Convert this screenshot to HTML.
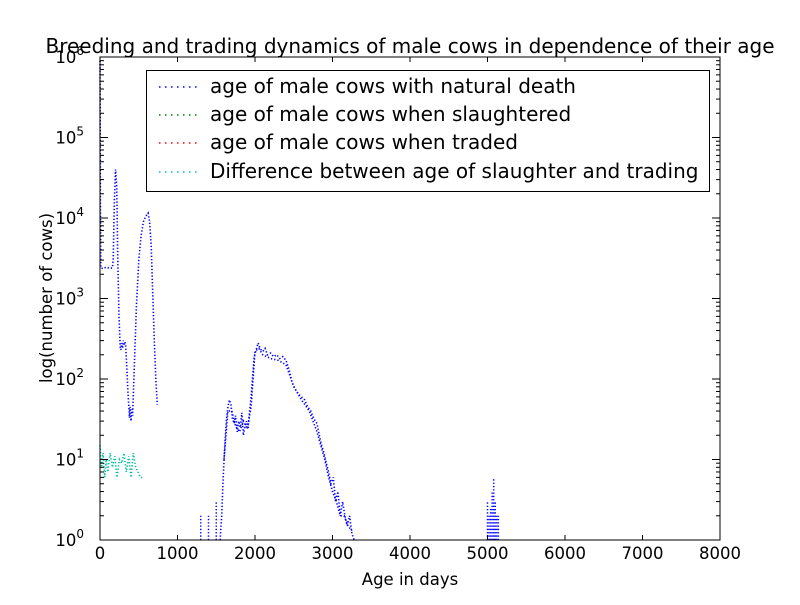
<!DOCTYPE html>
<html><head><meta charset="utf-8"><style>
body{margin:0;background:#fff;}
svg text{font-family:"DejaVu Sans","Liberation Sans",sans-serif;}
</style></head><body>
<svg id="chart" width="800" height="600" xmlns="http://www.w3.org/2000/svg">
<rect width="800" height="600" fill="#fff"/>
<text x="410" y="53" font-size="20" text-anchor="middle">Breeding and trading dynamics of male cows in dependence of their age</text>
<g id="marks"></g>
<rect x="100" y="57" width="620" height="483" fill="none" stroke="#000" stroke-width="1"/>
<g id="axes"></g>
<text x="410" y="585" font-size="16.5" text-anchor="middle">Age in days</text>
<text transform="translate(52,298) rotate(-90)" font-size="16.5" text-anchor="middle">log(number of cows)</text>
<g>
<rect x="146.5" y="70.5" width="563" height="121" fill="#fff" stroke="#000"/>
<line x1="159" y1="87" x2="201" y2="87" stroke="#0000ff" stroke-width="1.5" stroke-dasharray="1.5,4.5"/>
<text x="210" y="93" font-size="20">age of male cows with natural death</text>
<line x1="159" y1="115" x2="201" y2="115" stroke="#008000" stroke-width="1.5" stroke-dasharray="1.5,4.5"/>
<text x="210" y="121" font-size="20">age of male cows when slaughtered</text>
<line x1="159" y1="143" x2="201" y2="143" stroke="#ff0000" stroke-width="1.5" stroke-dasharray="1.5,4.5"/>
<text x="210" y="149" font-size="20">age of male cows when traded</text>
<line x1="159" y1="172" x2="201" y2="172" stroke="#00bfbf" stroke-width="1.5" stroke-dasharray="1.5,4.5"/>
<text x="210" y="178" font-size="20">Difference between age of slaughter and trading</text>
</g>
</svg>
<script>
const xTicks=[0,1000,2000,3000,4000,5000,6000,7000,8000];
const yExps=[0,1,2,3,4,5,6];
const naturalDays=[0,5,10,40,80,120,160,170,185,200,215,230,245,260,270,280,290,300,310,320,330,345,360,375,380,390,400,410,420,440,470,500,530,560,590,620,640,660,680,700,720,740];
const naturalCounts=[900000,20000,2400,2350,2450,2380,2400,3000,15000,40000,25000,3000,600,250,230,280,240,300,260,290,270,150,70,40,33,45,30,42,35,120,800,3000,6000,9000,10500,11500,9000,4500,1200,300,100,48];
const natural2Days=[1550,1570,1590,1610,1630,1650,1670,1690,1710,1730,1750,1770,1790,1810,1830,1850,1870,1890,1910,1930,1950,1970,1990,2020,2040,2060,2080,2100,2130,2160,2200,2240,2280,2320,2360,2400,2440,2480,2520,2560,2600,2640,2680,2720,2760,2800,2830,2860,2890,2920,2950,2980,3010,3040,3070,3100,3130,3160,3190,3220,3250,3280];
const natural2Counts=[1,2,6,15,30,45,55,48,32,28,35,22,30,25,38,20,26,30,24,40,60,110,190,240,280,250,230,220,240,200,210,190,200,180,190,170,130,90,75,65,60,55,45,40,32,28,20,15,12,9,7,5,6,3,4,2,3,2,1.5,2,1.2,1];
const natural3Days=[1600,1650,1700,1750,1800,1850,1900,1950,2000,2050,2100,2200,2300,2400,2500,2600,2700,2800,2900,2950,3000,3050,3100,3150,3200,3250];
const natural3Counts=[10,40,40,26,22,30,24,45,220,240,200,180,170,150,80,55,40,22,10,6,4,3,2,2,1.5,1.3];
const spikeDays=[1300,1400,1500,5000,5020,5040,5060,5080,5100,5120,5140];
const spikeCounts=[2,2,3,3,2,2.5,4,6,3,2,2];
const diffDays=[0,20,40,60,80,100,130,160,190,220,250,280,310,340,370,400,430,460,490,520,550];
const diffCounts=[15,8,12,6,10,7,12,8,11,6,10,9,12,7,11,6,12,8,7,6,6];
const X=d=>100+d*620/8000;
const Y=v=>540-Math.log10(v)*80.5;
const NS="http://www.w3.org/2000/svg";
const marks=document.getElementById('marks'),axes=document.getElementById('axes');
function series(days,counts,color,name){
  const p=document.createElementNS(NS,'polyline');
  
  
  p.setAttribute('points',days.map((d,i)=>X(d).toFixed(1)+','+Y(counts[i]).toFixed(1)).join(' '));
  p.setAttribute('fill','none');p.setAttribute('stroke',color);p.setAttribute('stroke-width','1.6');p.setAttribute('stroke-dasharray','1.3,2');
  marks.appendChild(p);
}
series(naturalDays,naturalCounts,'#0000ff','natural-death-line');
series(natural2Days,natural2Counts,'#0000ff','natural-death-line-2');
series(natural3Days,natural3Counts,'#0000ff','natural-death-line-3');
series(diffDays,diffCounts,'#00bfa0','difference-line');
spikeDays.forEach((d,i)=>{
  const l=document.createElementNS(NS,'line');
  
  
  l.setAttribute('x1',X(d));l.setAttribute('x2',X(d));l.setAttribute('y1',540);l.setAttribute('y2',Y(spikeCounts[i]));
  l.setAttribute('stroke','#0000ff');l.setAttribute('stroke-width','1.5');l.setAttribute('stroke-dasharray','1.3,2');
  marks.appendChild(l);
});
xTicks.forEach(t=>{
  const x=X(t);
  axes.insertAdjacentHTML('beforeend',`<line x1="${x}" y1="540" x2="${x}" y2="535" stroke="#000"/><line x1="${x}" y1="57" x2="${x}" y2="62" stroke="#000"/>`);
  const tx=document.createElementNS(NS,'text');
  
  
  tx.setAttribute('x',x);tx.setAttribute('y',559);tx.setAttribute('font-size','16.5');tx.setAttribute('text-anchor','middle');
  tx.textContent=t;axes.appendChild(tx);
});
yExps.forEach(e=>{
  const y=540-e*80.5;
  axes.insertAdjacentHTML('beforeend',`<line x1="100" y1="${y}" x2="108" y2="${y}" stroke="#000"/><line x1="720" y1="${y}" x2="712" y2="${y}" stroke="#000"/>`);
  if(e<6){for(let m=2;m<10;m++){const yy=y-Math.log10(m)*80.5;axes.insertAdjacentHTML('beforeend',`<line x1="100" y1="${yy}" x2="104" y2="${yy}" stroke="#000"/><line x1="720" y1="${yy}" x2="716" y2="${yy}" stroke="#000"/>`);}}
  const tx=document.createElementNS(NS,'text');
  
  
  tx.setAttribute('x',84);tx.setAttribute('y',y+6);tx.setAttribute('font-size','16.5');tx.setAttribute('text-anchor','end');
  tx.innerHTML='10<tspan font-size="12" dy="-8">'+e+'</tspan>';axes.appendChild(tx);
});
</script>
</body></html>
